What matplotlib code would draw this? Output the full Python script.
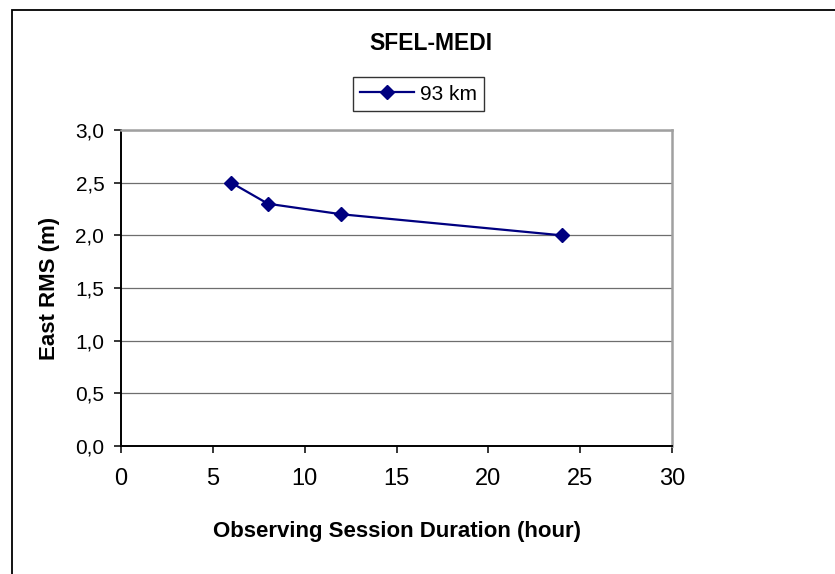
import matplotlib
matplotlib.use("Agg")
import matplotlib.pyplot as plt
from matplotlib.patches import Rectangle
from matplotlib.ticker import FuncFormatter, MultipleLocator

title = "SFEL-MEDI"
series_label = "93 km"
hours = [6, 8, 12, 24]
east_rms = [2.5, 2.3, 2.2, 2.0]
x_label = "Observing Session Duration (hour)"
y_label = "East RMS (m)"

plt.rcParams['font.family'] = ['Liberation Sans', 'DejaVu Sans']

W, H = 835, 574
fig = plt.figure(figsize=(W / 100, H / 100), dpi=100)
ax = fig.add_axes([121 / W, 1 - 446 / H, (672 - 121) / W, (446 - 130) / H])

ax.plot(hours, east_rms, color='#000080', lw=1.6, marker='D', ms=7.5,
        mfc='#000080', mec='#000080', label=series_label, zorder=3, clip_on=False)

ax.set_xlim(0, 30)
ax.set_ylim(0, 3.0)
ax.xaxis.set_major_locator(MultipleLocator(5))
ax.yaxis.set_major_locator(MultipleLocator(0.5))
ax.yaxis.set_major_formatter(FuncFormatter(lambda v, p: f"{v:.1f}".replace('.', ',')))
ax.xaxis.set_major_formatter(FuncFormatter(lambda v, p: f"{v:.0f}"))
ax.grid(axis='y', color='#6e6e6e', lw=0.9)
ax.set_axisbelow(True)
ax.tick_params(axis='both', direction='out', length=5, width=1.1, color='black')
ax.tick_params(axis='x', labelsize=17, pad=11)
ax.tick_params(axis='y', labelsize=15, pad=7)
for s in ['left', 'bottom']:
    ax.spines[s].set_color('black')
    ax.spines[s].set_linewidth(1.4)
for s in ['top', 'right']:
    ax.spines[s].set_color('#a0a0a0')
    ax.spines[s].set_linewidth(1.8)

ax.set_xlabel(x_label, fontsize=16, fontweight='bold', va='center')
ax.xaxis.set_label_coords(397 / W, 1 - 531 / H, transform=fig.transFigure)
ax.set_ylabel(y_label, fontsize=16, fontweight='bold', va='center')
ax.yaxis.set_label_coords(49 / W, 1 - 288 / H, transform=fig.transFigure)

fig.text(431 / W, 1 - 43.5 / H, title, ha='center', va='center', fontsize=16.5, fontweight='bold')

leg = fig.legend(loc='center', bbox_to_anchor=(418.5 / W, 1 - 94 / H), fontsize=15,
                 frameon=True, fancybox=False, edgecolor='black', handlelength=2.6,
                 borderpad=0.35, handletextpad=0.25)
leg.get_frame().set_linewidth(1.0)

fig.patches.append(Rectangle((12 / W, -0.1), 2, 1 - 9.5 / H + 0.1, transform=fig.transFigure,
                             fill=False, edgecolor='black', lw=1.3))

fig.savefig("out.png", dpi=100)
